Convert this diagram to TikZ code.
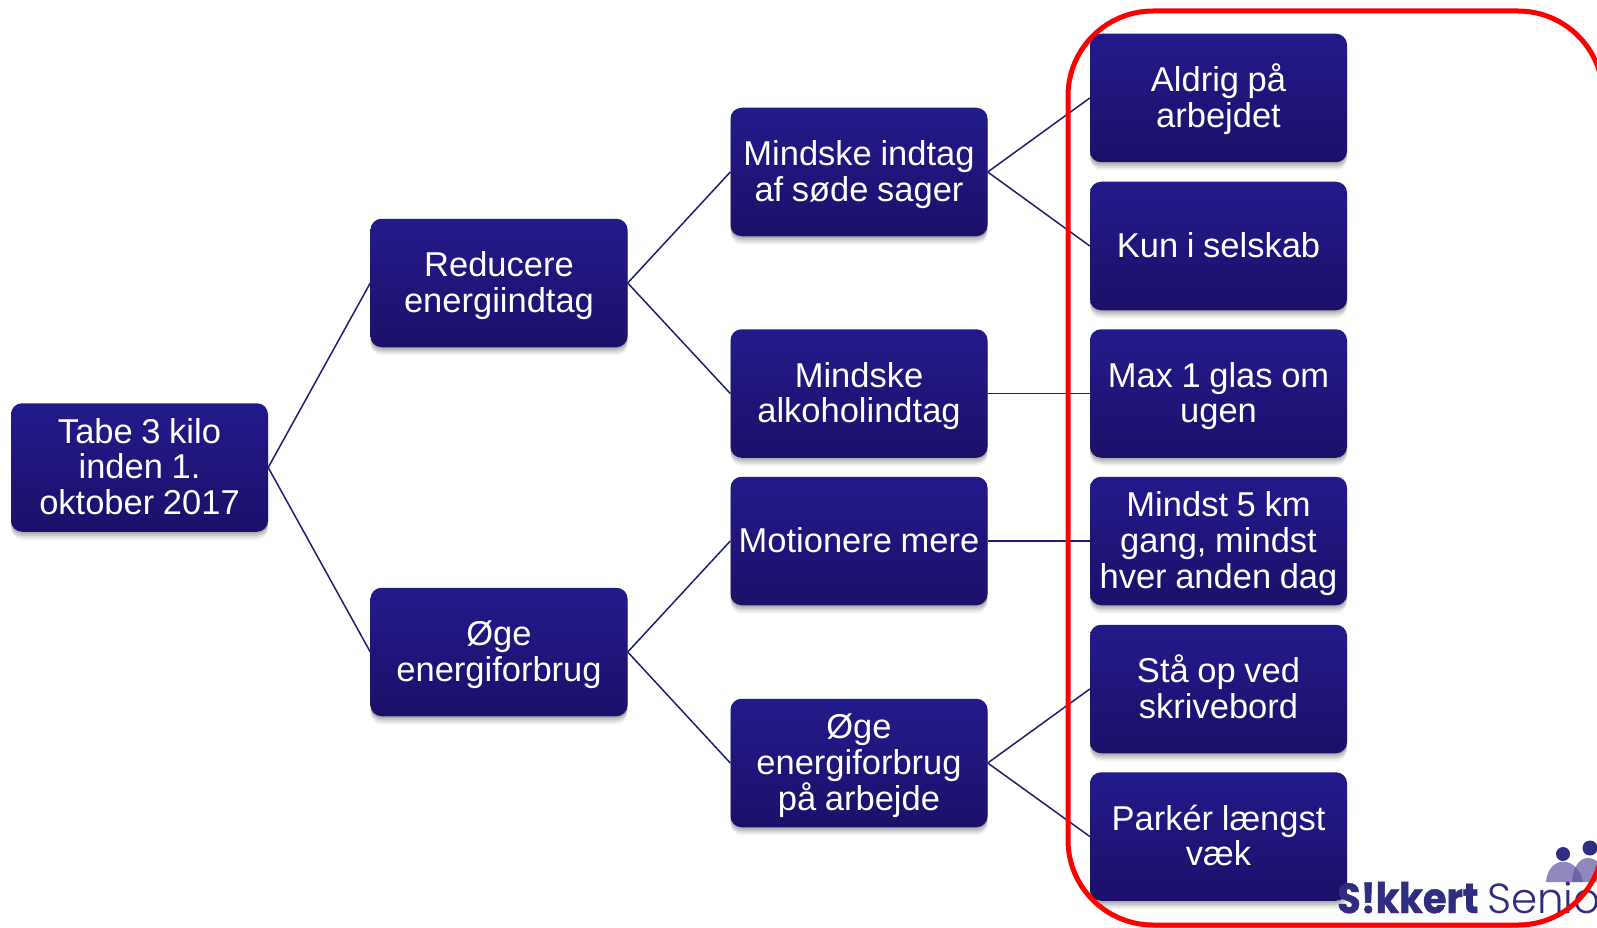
\documentclass[tikz,border=0pt]{standalone}
\usepackage{fontspec}
\setmainfont{Liberation Sans}
\newfontfamily\logobold{Poppins Bold}[FakeStretch=0.91,FakeBold=1]
\newfontfamily\logolight{Poppins Light}
\usetikzlibrary{shadows}
\definecolor{boxtop}{HTML}{231A8B}
\definecolor{boxbot}{HTML}{1B1069}
\definecolor{linkcol}{HTML}{241C72}
\definecolor{logodark}{HTML}{2E2D7F}
\definecolor{logolite}{HTML}{6055A2}
\definecolor{framered}{HTML}{FF0000}
\tikzset{
  x=1pt,y=-1pt,
  bluebox/.style={
    rounded corners=11pt,minimum width=257pt,minimum height=128.5pt,inner sep=0pt,
    text width=252pt,align=center,text=white,
    font=\fontsize{34.5pt}{35.8pt}\selectfont,
    execute at begin node={\spaceskip=0.25em\relax\rule{0pt}{30pt}},
    execute at end node={\rule[-7.2pt]{0pt}{7.2pt}},
    top color=boxtop,bottom color=boxbot,
    general shadow={shadow xshift=0pt,shadow yshift=-2pt,fill=black,opacity=.10},
    general shadow={shadow xshift=0pt,shadow yshift=-4pt,fill=black,opacity=.10},
    general shadow={shadow xshift=0pt,shadow yshift=-6pt,fill=black,opacity=.08},
    general shadow={shadow xshift=0pt,shadow yshift=-8pt,fill=black,opacity=.05}},
  link/.style={draw=linkcol,line width=1.5pt},
}
\begin{document}
\begin{tikzpicture}
\clip (0,0) rectangle (1597,928);
\fill[white] (0,0) rectangle (1597,928);
\node[bluebox] (root) at (139.5,467.5) {Tabe 3 kilo\\inden 1.\\oktober 2017};
\node[bluebox] (red) at (499,283) {Reducere\\energiindtag};
\node[bluebox] (oge) at (499,652) {Øge\\energiforbrug};
\node[bluebox] (sode) at (859,172) {Mindske indtag\\af søde sager};
\node[bluebox] (alko) at (859,393.5) {Mindske\\alkoholindtag};
\node[bluebox] (mot) at (859,541) {Motionere mere};
\node[bluebox] (arb) at (859,763) {Øge\\energiforbrug\\på arbejde};
\node[bluebox] (a) at (1218.5,98) {Aldrig på\\arbejdet};
\node[bluebox] (b) at (1218.5,246) {Kun i selskab};
\node[bluebox] (c) at (1218.5,393.5) {Max 1 glas om\\ugen};
\node[bluebox] (d) at (1218.5,541) {Mindst 5 km\\gang, mindst\\hver anden dag};
\node[bluebox] (e) at (1218.5,689) {Stå op ved\\skrivebord};
\node[bluebox] (f) at (1218.5,836.5) {Parkér længst\\væk};
\draw[link] (root.east) -- (red.west);
\draw[link] (root.east) -- (oge.west);
\draw[link] (red.east) -- (sode.west);
\draw[link] (red.east) -- (alko.west);
\draw[link] (oge.east) -- (mot.west);
\draw[link] (oge.east) -- (arb.west);
\draw[link] (sode.east) -- (a.west);
\draw[link] (sode.east) -- (b.west);
\draw[link] (alko.east) -- (c.west);
\draw[link] (mot.east) -- (d.west);
\draw[link] (arb.east) -- (e.west);
\draw[link] (arb.east) -- (f.west);
% logo
\fill[logolite,fill opacity=.7] (1546,882) .. controls (1548,855) and (1578,855) .. (1583,882) -- cycle;
\fill[logolite,fill opacity=.7] (1572,882) .. controls (1574,850) and (1600,850) .. (1610,882) -- cycle;
\fill[logodark] (1563,854) circle (7);
\fill[logodark] (1590,848) circle (7.5);
\node[anchor=base west,inner sep=0pt,text=logodark,font=\logobold\fontsize{42pt}{42pt}\selectfont] (logoa) at (1337,913) {S!kkert};
\node[anchor=base west,inner sep=0pt,text=logodark,font=\logolight\fontsize{42pt}{42pt}\selectfont] (logob) at (1487,913) {Senior};
\node[draw=framered,line width=5pt,rounded corners=85pt,minimum width=535pt,minimum height=914pt,inner sep=0pt] (frame) at (1335.5,468) {};
\end{tikzpicture}
\end{document}
